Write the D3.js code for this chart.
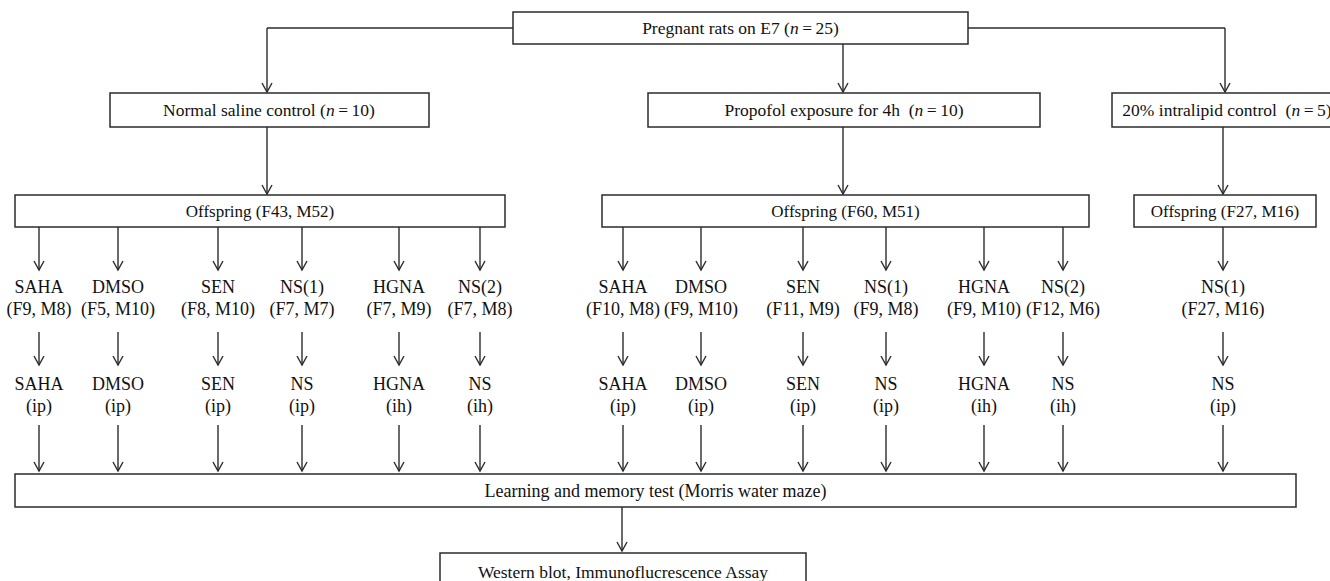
<!DOCTYPE html>
<html>
<head>
<meta charset="utf-8">
<style>
  body { margin: 0; background: #fff; }
  svg { display: block; background: #fff; font-family: "Liberation Serif", "Times New Roman", serif; }
</style>
<script src="https://cdn.jsdelivr.net/npm/d3@7/dist/d3.min.js"></script>
</head>
<body>
<svg id="main"></svg>
<script>
// ---- labels ----
const rootLabel = "Pregnant rats on E7 "
const rootN = 25
const armLabels = ["Normal saline control ", "Propofol exposure for 4h\u00a0\u00a0", "20% intralipid control\u00a0\u00a0"]
const armN = [10, 10, 5]
const offspringLabels = ["Offspring (F43, M52)", "Offspring (F60, M51)", "Offspring (F27, M16)"]
const subArm = [0, 0, 0, 0, 0, 0, 1, 1, 1, 1, 1, 1, 2]
const subNames = ["SAHA", "DMSO", "SEN", "NS(1)", "HGNA", "NS(2)", "SAHA", "DMSO", "SEN", "NS(1)", "HGNA", "NS(2)", "NS(1)"]
const subCounts = ["(F9, M8)", "(F5, M10)", "(F8, M10)", "(F7, M7)", "(F7, M9)", "(F7, M8)",
                   "(F10, M8)", "(F9, M10)", "(F11, M9)", "(F9, M8)", "(F9, M10)", "(F12, M6)", "(F27, M16)"]
const drugNames = ["SAHA", "DMSO", "SEN", "NS", "HGNA", "NS", "SAHA", "DMSO", "SEN", "NS", "HGNA", "NS", "NS"]
const routes = ["(ip)", "(ip)", "(ip)", "(ip)", "(ih)", "(ih)", "(ip)", "(ip)", "(ip)", "(ip)", "(ih)", "(ih)", "(ip)"]
const testLabel = "Learning and memory test (Morris water maze)"
const assayLabel = "Western blot, Immunoflucrescence Assay"

// ---- layout (pixels) ----
const width = 1330, height = 581
const leafX = [39, 118, 218, 302, 399, 480, 623, 701, 803, 886, 984, 1063, 1223]
const rootBox = {x0: 513, x1: 968, y0: 12, y1: 44}
const armBoxes = [[110, 429], [648, 1040], [1112, 1340]]
const armX = [267, 843, 1225]
const armTextX = [269, 844, 1227]
const offBoxes = [[15, 505], [602, 1089], [1134, 1316]]
const offX = [267, 843, 1223]
const testBox = {x0: 15, x1: 1296, y0: 474, y1: 507}
const assayBox = {x0: 440, x1: 806, y0: 553, y1: 593}
const assayX = 622
const row = {branch: 28, armTop: 93, armBot: 127, offTop: 195, offBot: 227,
             l1a: 293, l1b: 315, mid0: 332, mid1: 365, l2a: 390, l2b: 412, low0: 425}

const ink = "#2b2b2b"
const svg = d3.select("#main").attr("width", width).attr("height", height)

const lines = svg.append("g").attr("fill", "none").attr("stroke", ink).attr("stroke-width", 1.4)
const boxes = svg.append("g").attr("fill", "#fff").attr("stroke", ink).attr("stroke-width", 1.5)
const texts = svg.append("g").attr("fill", "#111").attr("text-anchor", "middle")

function arrow(x, y0, y1) {
  lines.append("path").attr("d", `M${x},${y0}V${y1}`)
  lines.append("path").attr("d", `M${x - 5},${y1 - 9}L${x},${y1}L${x + 5},${y1 - 9}`)
}
function box(x0, x1, y0, y1) {
  boxes.append("rect").attr("x", x0).attr("y", y0).attr("width", x1 - x0).attr("height", y1 - y0)
}
function label(x, y, str, size) {
  return texts.append("text").attr("x", x).attr("y", y).attr("dy", "0.35em")
    .attr("font-size", size).text(str)
}
function nLabel(x, y, str, n, size) {
  const t = texts.append("text").attr("x", x).attr("y", y).attr("dy", "0.35em").attr("font-size", size)
  t.append("tspan").text(str + "(")
  t.append("tspan").attr("font-style", "italic").text("n")
  t.append("tspan").text("\u2009=\u2009" + n + ")")
}

// root and branches
box(rootBox.x0, rootBox.x1, rootBox.y0, rootBox.y1)
nLabel((rootBox.x0 + rootBox.x1) / 2, (rootBox.y0 + rootBox.y1) / 2, rootLabel, rootN, 17.5)
lines.append("path").attr("d", `M${rootBox.x0},${row.branch}H${armX[0]}`)
lines.append("path").attr("d", `M${rootBox.x1},${row.branch}H${armX[2]}`)
arrow(armX[0], row.branch, row.armTop - 1)
arrow(armX[1], rootBox.y1, row.armTop - 1)
arrow(armX[2], row.branch, row.armTop - 1)

// arms
armLabels.forEach((s, i) => {
  box(armBoxes[i][0], armBoxes[i][1], row.armTop, row.armBot)
  nLabel(armTextX[i], (row.armTop + row.armBot) / 2, s, armN[i], 17.5)
  arrow(offX[i], row.armBot, row.offTop - 1)
})

// offspring
offspringLabels.forEach((s, i) => {
  box(offBoxes[i][0], offBoxes[i][1], row.offTop, row.offBot)
  label((offBoxes[i][0] + offBoxes[i][1]) / 2, (row.offTop + row.offBot) / 2, s, 17)
})

// sub groups
leafX.forEach((x, i) => {
  arrow(x, row.offBot, row.l1a - 23)
  texts.append("text").attr("x", x).attr("y", row.l1a).attr("font-size", 18).text(subNames[i])
  texts.append("text").attr("x", x).attr("y", row.l1b).attr("font-size", 18).text(subCounts[i])
  arrow(x, row.mid0, row.mid1)
  texts.append("text").attr("x", x).attr("y", row.l2a).attr("font-size", 18).text(drugNames[i])
  texts.append("text").attr("x", x).attr("y", row.l2b).attr("font-size", 18).text(routes[i])
  arrow(x, row.low0, testBox.y0 - 3)
})

// test and assay
box(testBox.x0, testBox.x1, testBox.y0, testBox.y1)
label((testBox.x0 + testBox.x1) / 2, (testBox.y0 + testBox.y1) / 2, testLabel, 18)
arrow(assayX, testBox.y1, assayBox.y0 - 2)
box(assayBox.x0, assayBox.x1, assayBox.y0, assayBox.y1)
label((assayBox.x0 + assayBox.x1) / 2, 572, assayLabel, 17.5)
</script>
</body>
</html>
